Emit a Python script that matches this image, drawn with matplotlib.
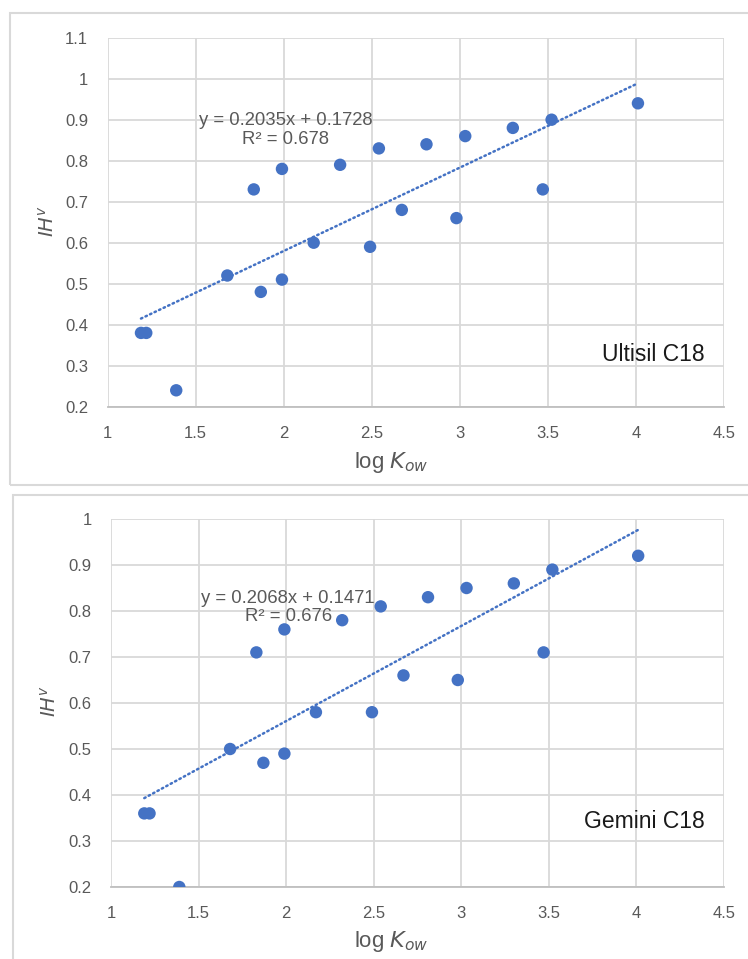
import matplotlib
matplotlib.use("Agg")
import matplotlib.pyplot as plt
from matplotlib.patches import Rectangle
import numpy as np

# ---- data ----
log_kow = [1.19, 1.22, 1.39, 1.68, 1.83, 1.87, 1.99, 1.99, 2.17, 2.32,
           2.49, 2.54, 2.67, 2.81, 2.98, 3.03, 3.30, 3.47, 3.52, 4.01]
ihv_ultisil = [0.38, 0.38, 0.24, 0.52, 0.73, 0.48, 0.78, 0.51, 0.60, 0.79,
               0.59, 0.83, 0.68, 0.84, 0.66, 0.86, 0.88, 0.73, 0.90, 0.94]
ihv_gemini = [0.36, 0.36, 0.20, 0.50, 0.71, 0.47, 0.76, 0.49, 0.58, 0.78,
              0.58, 0.81, 0.66, 0.83, 0.65, 0.85, 0.86, 0.71, 0.89, 0.92]
fit_ultisil = (0.2035, 0.1728, 0.678)
fit_gemini = (0.2068, 0.1471, 0.676)
labels = ["Ultisil C18", "Gemini C18"]
x_ticks = [1, 1.5, 2, 2.5, 3, 3.5, 4, 4.5]
y_ticks_top = [0.2, 0.3, 0.4, 0.5, 0.6, 0.7, 0.8, 0.9, 1.0, 1.1]
y_ticks_bot = [0.2, 0.3, 0.4, 0.5, 0.6, 0.7, 0.8, 0.9, 1.0]

BLUE = "#4472C4"
GRID = "#D9D9D9"
TICK = "#595959"
FONT = ["Liberation Sans", "DejaVu Sans"]

W, H = 748, 959
fig = plt.figure(figsize=(W / 100, H / 100), dpi=100)
fig.patch.set_facecolor("white")

def px(x0, y0, x1, y1):
    return [x0 / W, 1 - y1 / H, (x1 - x0) / W, (y1 - y0) / H]

# panel frames
fig.patches.append(Rectangle((10 / W, 1 - 485 / H), 760 / W, 472 / H,
                             transform=fig.transFigure, fill=False,
                             edgecolor="#D9D9D9", lw=1.5))
fig.patches.append(Rectangle((13 / W, -0.05), 760 / W, 1 - 495 / H + 0.05,
                             transform=fig.transFigure, fill=False,
                             edgecolor="#D9D9D9", lw=1.5))

def tick_fmt(v):
    return f"{v:g}"

def panel(rect, yvals, fit, label, yticks, eq_pos, lab_pos, xlab_y, ylab_x):
    ax = fig.add_axes(rect)
    ax.set_xlim(1, 4.5)
    ax.set_ylim(yticks[0], yticks[-1])
    ax.set_xticks(x_ticks)
    ax.set_yticks(yticks)
    ax.set_xticklabels([tick_fmt(v) for v in x_ticks])
    ax.set_yticklabels([tick_fmt(v) for v in yticks])
    ax.grid(True, color=GRID, lw=1.3)
    ax.set_axisbelow(True)
    for s in ["top", "right", "left"]:
        ax.spines[s].set_visible(False)
    ax.spines["bottom"].set_color("#BFBFBF")
    ax.spines["bottom"].set_linewidth(1.3)
    ax.tick_params(length=0, labelsize=12, labelcolor=TICK)
    ax.tick_params(axis="x", pad=14)
    ax.tick_params(axis="y", pad=14)
    for t in ax.get_xticklabels() + ax.get_yticklabels():
        t.set_family(FONT)
    slope, icpt, r2 = fit
    xs = np.array([min(log_kow), max(log_kow)])
    ax.plot(xs, slope * xs + icpt, color=BLUE, lw=1.8, ls=(0, (0.6, 1.4)),
            dash_capstyle="round", zorder=2)
    ax.scatter(log_kow, yvals, s=80, color=BLUE, zorder=3, edgecolors="none")
    ax.text(eq_pos[0], eq_pos[1], f"y = {slope:.4f}x + {icpt:.4f}\nR\u00b2 = {r2:.3f}",
            transform=ax.transAxes, ha="center", va="center", fontsize=13.3,
            color=TICK, family=FONT, linespacing=1.1)
    ax.text(lab_pos[0], lab_pos[1], label, transform=ax.transAxes,
            ha="center", va="center", fontsize=16.5, color="#1a1a1a", family=FONT)
    fig.text(391 / W, 1 - xlab_y / H, r"log $\mathit{K}_{\mathit{ow}}$",
             ha="center", va="center", fontsize=16, color=TICK, family=FONT)
    fig.text(ylab_x / W, 1 - (xlab_y - 241) / H, r"$\mathit{IH}^{\mathit{v}}$",
             ha="center", va="center", fontsize=14, color=TICK, rotation=90)
    return ax

ax1 = panel(px(107.5, 37.7, 724.3, 406.7), ihv_ultisil, fit_ultisil, labels[0],
            y_ticks_top, (0.289, 0.750), (0.885, 0.141), 462, 48)
ax2 = panel(px(111, 519, 724, 887), ihv_gemini, fit_gemini, labels[1],
            y_ticks_bot, (0.289, 0.760), (0.87, 0.178), 942, 50)

fig.savefig("out.png", dpi=100, facecolor="white")
